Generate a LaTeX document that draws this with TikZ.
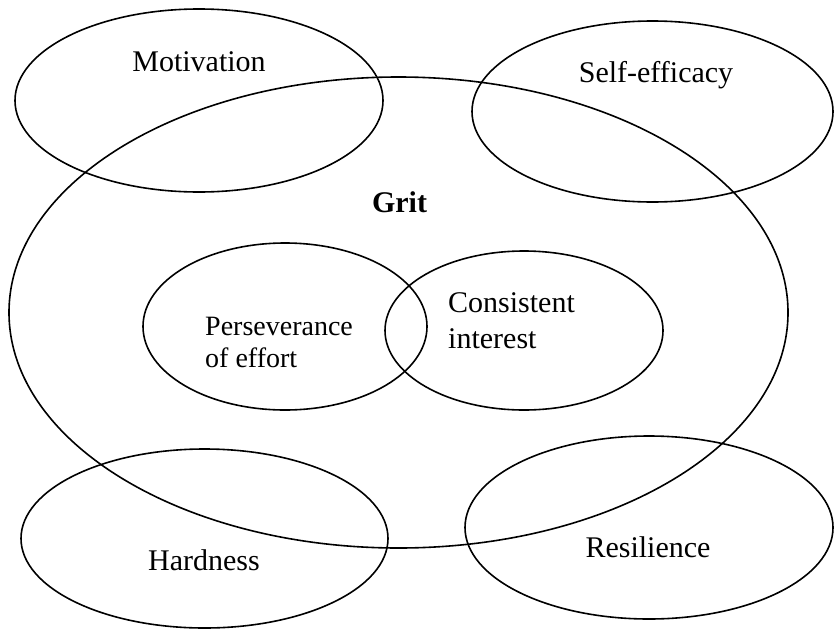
\documentclass[tikz,border=0pt]{standalone}
\usepackage{fontspec}
\setmainfont{Liberation Serif}
\usetikzlibrary{shapes.geometric,positioning}

\begin{document}
\begin{tikzpicture}[x=1pt, y=-1pt,
                every node/.append style={align=left},
                set/.style={draw, line width=1.6pt, ellipse, inner sep=0pt, outer sep=0pt},
                lbl/.style={inner sep=0pt, anchor=base, font=\fontsize{30}{34}\selectfont},
                inlbl/.style={inner sep=0pt, anchor=north west, font=\fontsize{28}{32}\selectfont}]
  \useasboundingbox (0,0) rectangle (834,629);

  % the big one
  \node [set, minimum width=779pt, minimum height=471pt] (grit) at (398.5,312.5) {};
  % outer sets
  \node [set, minimum width=368pt, minimum height=183pt] (motiv)   at (199,100.5) {};
  \node [set, minimum width=361pt, minimum height=181pt] (selfeff) at (652.5,111.5) {};
  \node [set, minimum width=367pt, minimum height=179pt] (hard)    at (204.5,538.5) {};
  \node [set, minimum width=368pt, minimum height=183pt] (resil)   at (649,527.5) {};
  % inner sets
  \node [set, minimum width=284pt, minimum height=167pt] (persev)  at (285,326.5) {};
  \node [set, minimum width=278pt, minimum height=159pt] (consist) at (524,330.5) {};

  \node [lbl] (motivtxt)   at (199,71)    {Motivation};
  \node [lbl] (selfefftxt) at (656,82)    {Self-efficacy};
  \node [lbl, font=\fontsize{30}{34}\selectfont\bfseries] (grittxt) at (399.5,212) {Grit};
  \node [lbl] (hardtxt)    at (204,570)   {Hardness};
  \node [lbl] (resiltxt)   at (648,557)   {Resilience};
  \node [inlbl] (persevtxt)  at (205,316.5) {Perseverance\\of effort};
  \node [inlbl, font=\fontsize{30}{36}\selectfont] (consisttxt) at (448,292) {Consistent\\interest};
\end{tikzpicture}
\end{document}
